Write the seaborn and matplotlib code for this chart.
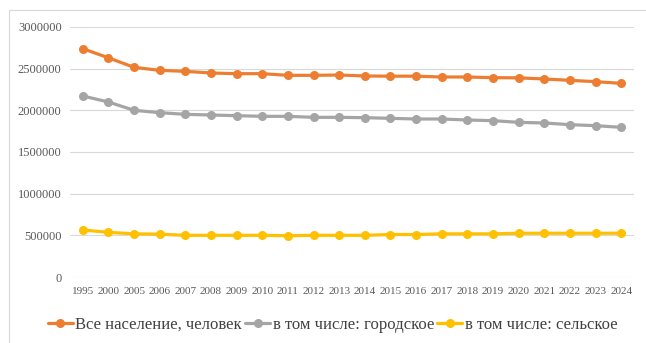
import matplotlib
matplotlib.use("Agg")
import matplotlib.pyplot as plt
from matplotlib.lines import Line2D
import seaborn as sns
import pandas as pd

# Years on the axis (categorical)
years = ['1995', '2000', '2005', '2006', '2007', '2008', '2009', '2010', '2011', '2012',
         '2013', '2014', '2015', '2016', '2017', '2018', '2019', '2020', '2021', '2022',
         '2023', '2024']

total = [2740000, 2630000, 2516000, 2480000, 2468000, 2448000, 2440000, 2440000, 2420000,
         2420000, 2424000, 2412000, 2410000, 2410000, 2400000, 2400000, 2392000, 2390000,
         2376000, 2360000, 2344000, 2324000]
urban = [2172000, 2100000, 2000000, 1972000, 1952000, 1944000, 1936000, 1928000, 1928000,
         1916000, 1916000, 1912000, 1904000, 1896000, 1896000, 1884000, 1876000, 1856000,
         1848000, 1828000, 1816000, 1796000]
rural = [564000, 536000, 518000, 514000, 500000, 500000, 500000, 500000, 495000, 500000,
         500000, 500000, 510000, 510000, 518000, 518000, 518000, 525000, 525000, 525000,
         525000, 525000]

series_names = ['Все население, человек', 'в том числе: городское', 'в том числе: сельское']
colors = ['#ED7D31', '#A5A5A5', '#FFC000']

frames = []
for name, vals in zip(series_names, [total, urban, rural]):
    frames.append(pd.DataFrame({'pos': range(len(years)), 'value': vals, 'series': name}))
df = pd.concat(frames, ignore_index=True)

sns.set_style("white")
plt.rcParams['font.family'] = ['Liberation Serif', 'DejaVu Serif']

fig = plt.figure(figsize=(6.46, 3.43), dpi=100)
ax = fig.add_axes([70 / 646, 1 - 277 / 343, (634 - 70) / 646, (277 - 27) / 343])

sns.lineplot(data=df, x='pos', y='value', hue='series', palette=colors,
             marker='o', markersize=6.5, markeredgewidth=0, linewidth=2.3, ax=ax,
             legend=True)

ax.set_xlim(-0.5, len(years) - 0.5)
ax.set_ylim(0, 3000000)
ax.set_yticks(range(0, 3000001, 500000))
ax.set_yticklabels([str(v) for v in range(0, 3000001, 500000)])
ax.set_xticks(range(len(years)))
ax.set_xticklabels(years)
ax.set_xlabel('')
ax.set_ylabel('')
ax.grid(axis='y', color='#D9D9D9', linewidth=0.8)
ax.set_axisbelow(True)
for s in ax.spines.values():
    s.set_visible(False)
ax.tick_params(axis='both', length=0, colors='#595959')
ax.tick_params(axis='y', labelsize=9, pad=6)
ax.tick_params(axis='x', labelsize=8, pad=7)

handles, labels = ax.get_legend_handles_labels()
ax.legend_.remove()
fig.legend(handles, labels, loc='center', bbox_to_anchor=(0.515, 1 - 325 / 343), ncol=3,
           frameon=False, fontsize=12, handlelength=1.5, handletextpad=0.15,
           columnspacing=0.2, labelcolor='#404040')

# chart border (left and top edges visible)
fig.add_artist(Line2D([9 / 646, 9 / 646], [0, 1 - 10 / 343], color='#D9D9D9', lw=0.8,
                      transform=fig.transFigure))
fig.add_artist(Line2D([9 / 646, 1], [1 - 10 / 343, 1 - 10 / 343], color='#D9D9D9', lw=0.8,
                      transform=fig.transFigure))

fig.savefig('out.png', dpi=100)
